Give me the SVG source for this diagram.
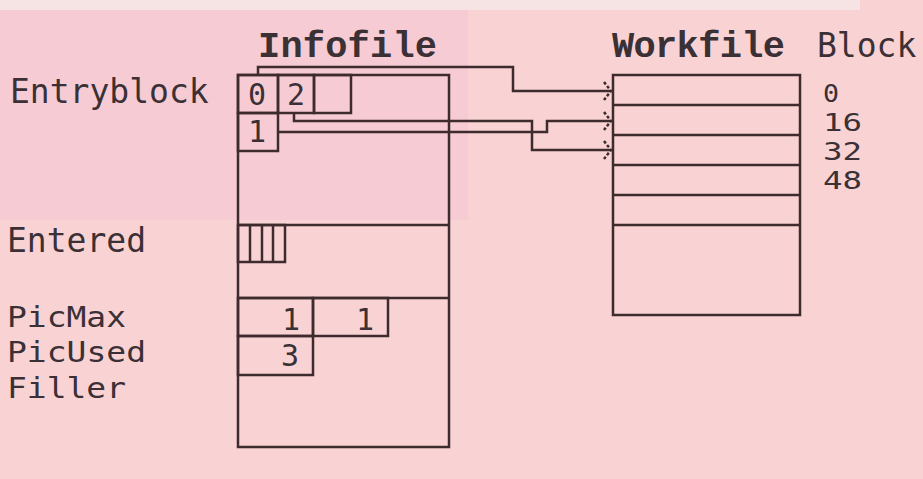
<svg xmlns="http://www.w3.org/2000/svg" width="923" height="479" viewBox="0 0 923 479">
  <defs>
    <style>
      .ln { fill: none; stroke: #3d2b2e; stroke-width: 2.5; }
      .cn { fill: none; stroke: #3d2b2e; stroke-width: 2.5; }
      .lbl { font-family: "DejaVu Sans Mono", "Liberation Mono", monospace; font-size: 33px; fill: #3a3035; }
      .lbs { font-family: "DejaVu Sans Mono", "Liberation Mono", monospace; font-size: 29px; fill: #3a3035; }
      .dig { font-family: "DejaVu Sans Mono", "Liberation Mono", monospace; font-size: 30px; fill: #3a3035; }
      .blk { font-family: "DejaVu Sans Mono", "Liberation Mono", monospace; font-size: 24px; fill: #3a3035; }
      .ttl { font-family: "Liberation Mono", "DejaVu Sans Mono", monospace; font-size: 37px; font-weight: bold; fill: #3a3035; }
    </style>
    <marker id="arr" viewBox="-10 -12 12 24" refX="0" refY="0" markerWidth="12" markerHeight="24" markerUnits="userSpaceOnUse" orient="auto">
      <path d="M-7,-9 L0,0 L-7,9" fill="none" stroke="#3d2b2e" stroke-width="2.5" stroke-dasharray="3 2"/>
    </marker>
  </defs>

  <rect x="0" y="0" width="923" height="479" fill="#f9d3d4"/>
  <rect x="0" y="10" width="468" height="210" fill="#f6cbd3"/>
  <rect x="0" y="0" width="860" height="10" fill="#f6e4e5"/>

  <g id="labels">
    <text class="lbl" x="10" y="103">Entryblock</text>
    <text class="lbl" x="7" y="252">Entered</text>
    <text class="lbs" x="7" y="327" textLength="119" lengthAdjust="spacingAndGlyphs">PicMax</text>
    <text class="lbs" x="7" y="362" textLength="139" lengthAdjust="spacingAndGlyphs">PicUsed</text>
    <text class="lbs" x="7" y="398" textLength="119" lengthAdjust="spacingAndGlyphs">Filler</text>
  </g>

  <g id="infofile">
    <text class="ttl" x="258" y="57" textLength="179" lengthAdjust="spacing">Infofile</text>
    <rect class="ln" x="238" y="75" width="211" height="372"/>
    <line class="ln" x1="238" y1="225" x2="449" y2="225"/>
    <line class="ln" x1="238" y1="298" x2="449" y2="298"/>
  </g>

  <g id="entry-cells">
    <rect class="ln" x="238" y="75" width="40" height="38"/>
    <rect class="ln" x="278" y="75" width="36" height="38"/>
    <rect class="ln" x="314" y="75" width="37" height="38" fill="#f7d2d8"/>
    <rect class="ln" x="238" y="113" width="40" height="38"/>
    <text class="dig" x="248" y="105">0</text>
    <text class="dig" x="287" y="105">2</text>
    <text class="dig" x="248" y="142">1</text>
  </g>

  <g id="entered-cells">
    <rect class="ln" x="238" y="225" width="47" height="37"/>
    <line class="ln" x1="250" y1="225" x2="250" y2="262"/>
    <line class="ln" x1="262" y1="225" x2="262" y2="262"/>
    <line class="ln" x1="273" y1="225" x2="273" y2="262"/>
  </g>

  <g id="picmax-cells">
    <rect class="ln" x="238" y="298" width="75" height="38"/>
    <rect class="ln" x="313" y="298" width="75" height="38"/>
    <text class="dig" x="300" y="330" text-anchor="end">1</text>
    <text class="dig" x="374" y="330" text-anchor="end">1</text>
  </g>

  <g id="picused-cells">
    <rect class="ln" x="238" y="336" width="75" height="39"/>
    <text class="dig" x="299" y="366" text-anchor="end">3</text>
  </g>

  <g id="workfile">
    <text class="ttl" x="612" y="57" textLength="173" lengthAdjust="spacing">Workfile</text>
    <text class="lbl" x="817" y="57">Block</text>
    <rect class="ln" x="613" y="75" width="187" height="240"/>
    <line class="ln" x1="613" y1="105" x2="800" y2="105"/>
    <line class="ln" x1="613" y1="135" x2="800" y2="135"/>
    <line class="ln" x1="613" y1="165" x2="800" y2="165"/>
    <line class="ln" x1="613" y1="195" x2="800" y2="195"/>
    <line class="ln" x1="613" y1="225" x2="800" y2="225"/>
    <text class="blk" x="823" y="102" textLength="16" lengthAdjust="spacingAndGlyphs">0</text>
    <text class="blk" x="823" y="131" textLength="39" lengthAdjust="spacingAndGlyphs">16</text>
    <text class="blk" x="823" y="160" textLength="39" lengthAdjust="spacingAndGlyphs">32</text>
    <text class="blk" x="823" y="189" textLength="39" lengthAdjust="spacingAndGlyphs">48</text>
  </g>

  <g id="connectors">
    <polyline class="cn" points="258,75 258,67 513,67 513,91 611,91" marker-end="url(#arr)"/>
    <polyline class="cn" points="294,113 294,121 532,121 532,150 611,150" marker-end="url(#arr)"/>
    <polyline class="cn" points="278,132 547,132 547,121 611,121" marker-end="url(#arr)"/>
  </g>
</svg>
